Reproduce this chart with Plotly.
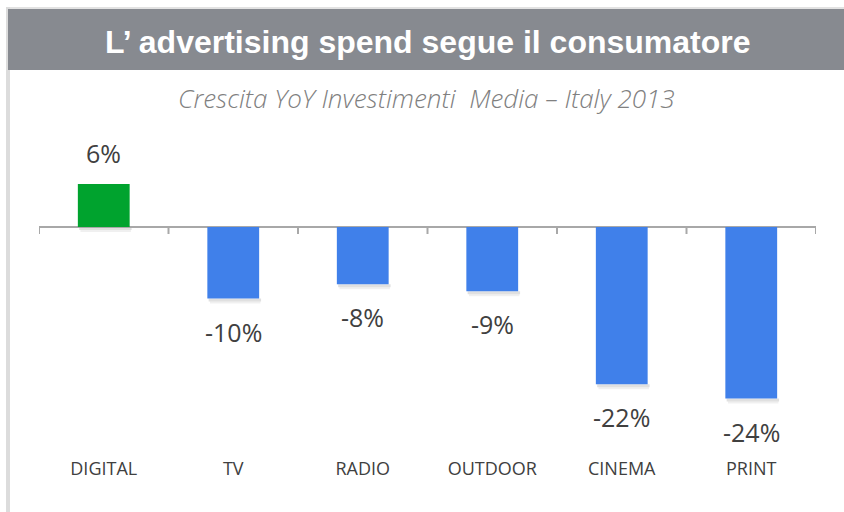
import plotly.graph_objects as go

# Year-over-year change in media investment, Italy 2013
categories = ["DIGITAL", "TV", "RADIO", "OUTDOOR", "CINEMA", "PRINT"]
growth_pct = [6, -10, -8, -9, -22, -24]

W, H = 844, 512
GREEN = "#00a32e"
BLUE = "#4080ea"
TEXT = "#404040"


def px_x(px):
    return px / W


def px_y(py):
    return 1 - py / H


# plot area in pixels; the y range is chosen so the zero line sits at 227px
plot_top, plot_bottom, zero_px, px_per_unit = 110, 456, 227, 7.15
y_max = (zero_px - plot_top) / px_per_unit
y_min = -(plot_bottom - zero_px) / px_per_unit

colors = [GREEN if v >= 0 else BLUE for v in growth_pct]

fig = go.Figure()
fig.add_trace(go.Bar(
    x=categories,
    y=growth_pct,
    marker=dict(color=colors, line=dict(width=0)),
    width=0.4,
    hoverinfo="skip",
))

shapes = []
annotations = []

# header band and frame lines
shapes.append(dict(type="rect", xref="paper", yref="paper",
                   x0=px_x(6), x1=1, y0=px_y(9), y1=px_y(7),
                   fillcolor="#e2e2e2", line=dict(width=0), layer="below"))
shapes.append(dict(type="rect", xref="paper", yref="paper",
                   x0=px_x(6), x1=px_x(10), y0=0, y1=px_y(7),
                   fillcolor="#dcdcdc", line=dict(width=0), layer="below"))
shapes.append(dict(type="rect", xref="paper", yref="paper",
                   x0=px_x(8), x1=1, y0=px_y(70), y1=px_y(9),
                   fillcolor="#878a90", line=dict(width=0), layer="below"))

# soft shadow under each bar's far edge (two layers for a blurred look)
for i, v in enumerate(growth_pct):
    edge = min(v, 0)
    shapes.append(dict(type="rect", xref="x", yref="y",
                       x0=i - 0.19, x1=i + 0.215,
                       ysizemode="pixel", yanchor=edge, y0=0, y1=-3,
                       fillcolor="rgba(0,0,0,0.12)", line=dict(width=0),
                       layer="below"))
    shapes.append(dict(type="rect", xref="x", yref="y",
                       x0=i - 0.18, x1=i + 0.21,
                       ysizemode="pixel", yanchor=edge, y0=-3, y1=-5,
                       fillcolor="rgba(0,0,0,0.06)", line=dict(width=0),
                       layer="below"))

# boundary ticks on the zero line
for k in range(len(categories) + 1):
    shapes.append(dict(type="line", xref="x", yref="y",
                       x0=k - 0.5, x1=k - 0.5,
                       ysizemode="pixel", yanchor=0, y0=0, y1=-7,
                       line=dict(color="#a8a8a8", width=2)))

# value labels
for i, v in enumerate(growth_pct):
    if v >= 0:
        annotations.append(dict(x=categories[i], y=v, xref="x", yref="y",
                                text=f"{v}%", showarrow=False,
                                yanchor="bottom", yshift=12,
                                font=dict(family="Open Sans", size=25, color=TEXT)))
    else:
        annotations.append(dict(x=categories[i], y=v, xref="x", yref="y",
                                text=f"{v}%", showarrow=False,
                                yanchor="top", yshift=-14,
                                font=dict(family="Open Sans", size=25, color=TEXT)))

annotations.append(dict(text="L’ advertising spend segue il consumatore",
                        x=px_x(428), y=px_y(42), xref="paper", yref="paper",
                        showarrow=False, xanchor="center", yanchor="middle",
                        font=dict(family="Liberation Sans, Arial",
                                  size=32, color="white", weight="bold")))
annotations.append(dict(text="<i>Crescita YoY Investimenti  Media – Italy 2013</i>",
                        x=px_x(426), y=px_y(98), xref="paper", yref="paper",
                        showarrow=False, xanchor="center", yanchor="middle",
                        font=dict(family="Open Sans", size=26, color="#808080",
                                  weight=300)))

fig.update_layout(
    width=W, height=H,
    margin=dict(l=0, r=0, t=0, b=0),
    paper_bgcolor="white", plot_bgcolor="rgba(0,0,0,0)",
    showlegend=False,
    bargap=0.6,
    shapes=shapes,
    annotations=annotations,
    xaxis=dict(domain=[px_x(39), px_x(816)], range=[-0.5, 5.5],
               showline=False, showgrid=False, zeroline=False, ticks="",
               tickfont=dict(family="Open Sans", size=18, color=TEXT),
               fixedrange=True),
    yaxis=dict(domain=[px_y(plot_bottom), px_y(plot_top)], range=[y_min, y_max],
               showticklabels=False, showgrid=False, ticks="",
               zeroline=True, zerolinecolor="#a8a8a8", zerolinewidth=2,
               fixedrange=True),
)

fig.write_html("out.html")
